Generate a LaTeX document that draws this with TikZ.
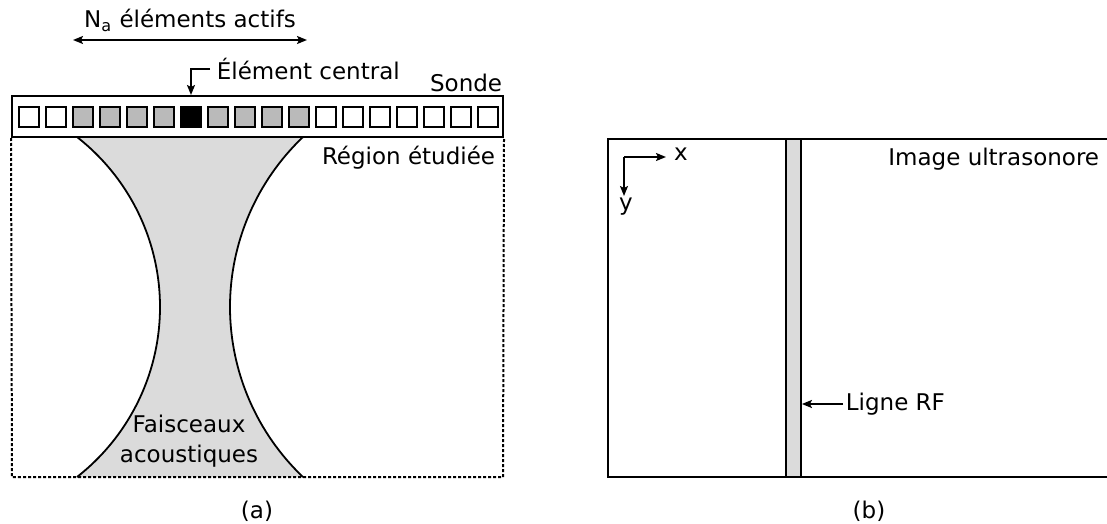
\documentclass[tikz,border=0pt]{standalone}
\usepackage{fontspec}
\setmainfont{DejaVu Sans}
\usetikzlibrary{arrows.meta}

\begin{document}
\begin{tikzpicture}[x=0.5pt,y=-0.5pt,line width=0.9pt,
  >={Stealth[length=5pt,width=4pt,inset=1pt]},
  every node/.style={font=\fontsize{11.5}{15}\selectfont},
  elem/.style={draw,line width=0.8pt,minimum size=10pt,inner sep=0pt},
  region/.style={dash pattern=on 1.5pt off 1pt,line width=1pt},
  beam/.style={fill=black!14}]
\useasboundingbox (0,0) rectangle (1107,524);

% (a) Faisceaux
\fill[beam] (77,137) .. controls (129.3,177.9) and (160,240.6) .. (160,307)
  .. controls (160,373.4) and (129.3,436.1) .. (77,477) -- (303,477)
  .. controls (256.5,432.8) and (230,371.2) .. (230,307)
  .. controls (230,242.8) and (256.5,181.2) .. (303,137) -- cycle;
\draw (77,137) .. controls (129.3,177.9) and (160,240.6) .. (160,307)
  .. controls (160,373.4) and (129.3,436.1) .. (77,477);
\draw (303,137) .. controls (256.5,181.2) and (230,242.8) .. (230,307)
  .. controls (230,371.2) and (256.5,432.8) .. (303,477);

% Sonde
\node[draw,line width=1pt,minimum width=245.5pt,minimum height=20.5pt,inner sep=0pt] (sonde) at (257.5,116.5) {};
\foreach \i in {0,...,17} {
  \ifnum\i<2 \def\c{white}\else\ifnum\i<11 \def\c{black!27}\else\def\c{white}\fi\fi
  \ifnum\i=6 \def\c{black}\fi
  \node[elem,fill=\c] (e\i) at (29+27*\i,117) {};
}

% Region etudiee
\draw[region] (sonde.south west) -- (12,477) -- (503,477) -- (sonde.south east);

% Textes (a)
\node[anchor=base] (na) at (190,28) {N\textsubscript{a} éléments actifs};
\coordinate (na l) at (73,40);
\coordinate (na r) at (307,40);
\draw[<->] (na l) -- (na r);

\node[anchor=west,inner sep=3pt] (central) at (210,69) {Élément central};
\draw[->] (central.west) -| (e6.north |- sonde.north);

\node[anchor=base east,inner sep=0pt] (sonde lbl) at (503,91) {Sonde};
\node[anchor=base east,inner sep=0pt] (region lbl) at (496,164) {Région étudiée};
\node[align=center] (faisceaux) at (189,441) {Faisceaux\\acoustiques};
\node (cap a) at (257,511) {(a)};

% (b) Image
\draw[line width=1pt] (1110,139) -- (608,139) -- (608,477) -- (1110,477);
\node[draw,beam,line width=0.9pt,minimum width=7.5pt,minimum height=169pt,inner sep=0pt] (rf) at (793.5,308) {};
\node[anchor=base east,inner sep=0pt] (image) at (1100,165) {Image ultrasonore};

\coordinate (o) at (624,157);
\coordinate (o x) at (666,157);
\coordinate (o y) at (624,196);
\draw[->] (o) -- (o x);
\draw[->] (o) -- (o y);
\node (lbl x) at (681,154) {x};
\node (lbl y) at (626,207) {y};

\node[anchor=west,inner sep=1pt] (rf lbl) at (843,404) {Ligne RF};
\draw[->] (rf lbl.west) -- (rf lbl.west -| rf.east);
\node (cap b) at (869,511) {(b)};
\end{tikzpicture}
\end{document}
